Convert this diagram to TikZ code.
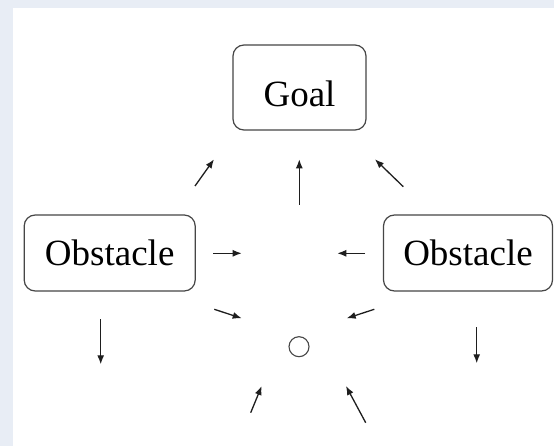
\documentclass[tikz,border=0pt]{standalone}
\usepackage{fontspec}
\setmainfont{Liberation Serif}
\usetikzlibrary{arrows.meta}
\definecolor{bgframe}{RGB}{232,237,245}
\definecolor{boxline}{RGB}{70,70,70}
\definecolor{arrowc}{RGB}{30,30,30}
\begin{document}
\begin{tikzpicture}[x=1pt,y=-1pt,
  box/.style={draw=boxline,line width=1.2pt,rounded corners=11pt,inner sep=0pt,
    font=\fontsize{37}{44}\selectfont,text=black},
  arr/.style={draw=arrowc,line width=1.3pt,-{Latex[length=9pt,width=7pt]}}]
\fill[bgframe] (0,0) rectangle (554,446);
\fill[white] (13,8) rectangle (554,446);
\useasboundingbox (0,0) rectangle (554,446);
\node[box,minimum width=133pt,minimum height=85pt,text height=39pt,text depth=0pt] (goal) at (299.5,87.5) {Goal};
\node[box,minimum width=171pt,minimum height=76pt] (obsL) at (109.7,253) {Obstacle};
\node[box,minimum width=169pt,minimum height=76pt] (obsR) at (468,253) {Obstacle};
\node[draw=boxline,line width=1.1pt,circle,minimum size=20pt,inner sep=0pt] (agent) at (299,346.7) {};
% arrow end points
\coordinate (a1s) at (195,186); \coordinate (a1e) at (214,159.3);
\coordinate (a2s) at (299.3,205); \coordinate (a2e) at (299.3,159.3);
\coordinate (a3s) at (403.3,186.7); \coordinate (a3e) at (375,159.3);
\coordinate (a4s) at (213.3,253.3); \coordinate (a4e) at (241.7,253.3);
\coordinate (a5s) at (365,253.3); \coordinate (a5e) at (337.3,253.3);
\coordinate (a6s) at (214.3,309.3); \coordinate (a6e) at (241.7,318.3);
\coordinate (a7s) at (374.3,309.3); \coordinate (a7e) at (346.7,318.3);
\coordinate (a8s) at (100.7,319); \coordinate (a8e) at (100.7,364.3);
\coordinate (a9s) at (476.7,327.3); \coordinate (a9e) at (476.7,363.3);
\coordinate (a10s) at (250.7,412.7); \coordinate (a10e) at (261.7,386);
\coordinate (a11s) at (365.7,422.7); \coordinate (a11e) at (346,386);
\foreach \i in {1,...,11} {\draw[arr] (a\i s) -- (a\i e);}
\end{tikzpicture}
\end{document}
